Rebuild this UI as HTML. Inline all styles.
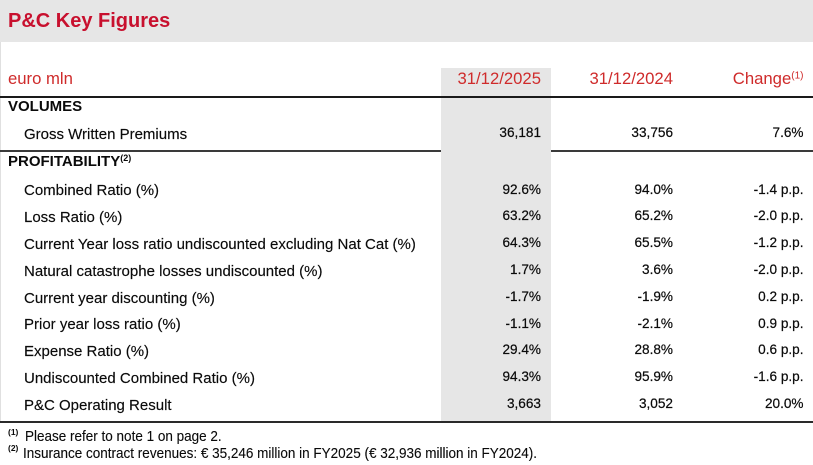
<!DOCTYPE html>
<html>
<head>
<meta charset="utf-8">
<style>
html,body{margin:0;padding:0;}
body{width:813px;height:465px;position:relative;overflow:hidden;background:#fff;font-family:"Liberation Sans",Arial,sans-serif;color:#0a0a0a;}
.a{position:absolute;white-space:nowrap;}
.lab{font-size:15px;line-height:15px;left:24px;-webkit-text-stroke:0.15px #0a0a0a;}
.sec{font-size:15px;line-height:15px;left:8px;font-weight:bold;}
.n{font-size:13.6px;line-height:13.6px;text-align:right;-webkit-text-stroke:0.2px #0a0a0a;}
.c1{right:272px;}
.c2{right:140px;}
.c3{right:9.5px;}
.hd{font-size:16.7px;line-height:16.7px;color:#cf2b2b;}
.fn{font-size:13.5px;line-height:13.5px;transform:scaleY(1.08);transform-origin:0 100%;-webkit-text-stroke:0.1px #0a0a0a;}
.fs{font-size:8.5px;line-height:8.5px;font-weight:bold;left:8px;}
sup{font-size:0.6em;vertical-align:0.55em;line-height:0;}
</style>
</head>
<body>
<!-- title band -->
<div class="a" style="left:0;top:0;width:813px;height:42px;background:#e6e6e6;"></div>
<div class="a" style="left:8px;top:11.4px;font-size:20px;line-height:20px;font-weight:bold;color:#c8102e;">P&amp;C Key Figures</div>
<!-- left faint border -->
<div class="a" style="left:0;top:42px;width:1px;height:380px;background:#e0e0e0;"></div>
<!-- gray column -->
<div class="a" style="left:441px;top:68px;width:110px;height:354px;background:#e6e6e6;"></div>

<!-- header -->
<div class="a hd" style="left:8px;top:71.4px;">euro mln</div>
<div class="a hd c1" style="top:71.4px;">31/12/2025</div>
<div class="a hd c2" style="top:71.4px;">31/12/2024</div>
<div class="a hd c3" style="top:71.4px;">Change<sup>(1)</sup></div>

<!-- lines -->
<div class="a" style="left:0;top:96px;width:813px;height:2px;background:#1a1a1a;"></div>
<div class="a" style="left:0;top:150px;width:441px;height:1.5px;background:#3a3a3a;"></div>
<div class="a" style="left:551px;top:150px;width:262px;height:1.5px;background:#3a3a3a;"></div>
<div class="a" style="left:0;top:421px;width:813px;height:2px;background:#2a2a2a;"></div>

<!-- volumes -->
<div class="a sec" style="top:99px;">VOLUMES</div>
<div class="a lab" style="top:126.6px;">Gross Written Premiums</div>
<div class="a n c1" style="top:125.8px;">36,181</div>
<div class="a n c2" style="top:125.8px;">33,756</div>
<div class="a n c3" style="top:125.8px;">7.6%</div>

<!-- profitability -->
<div class="a sec" style="top:153.8px;">PROFITABILITY<sup>(2)</sup></div>

<div class="a lab" style="top:183.3px;">Combined Ratio (%)</div>
<div class="a n c1" style="top:182.5px;">92.6%</div>
<div class="a n c2" style="top:182.5px;">94.0%</div>
<div class="a n c3" style="top:182.5px;">-1.4 p.p.</div>

<div class="a lab" style="top:210.1px;">Loss Ratio (%)</div>
<div class="a n c1" style="top:209.3px;">63.2%</div>
<div class="a n c2" style="top:209.3px;">65.2%</div>
<div class="a n c3" style="top:209.3px;">-2.0 p.p.</div>

<div class="a lab" style="top:236.9px;">Current Year loss ratio undiscounted excluding Nat Cat (%)</div>
<div class="a n c1" style="top:236.1px;">64.3%</div>
<div class="a n c2" style="top:236.1px;">65.5%</div>
<div class="a n c3" style="top:236.1px;">-1.2 p.p.</div>

<div class="a lab" style="top:263.7px;">Natural catastrophe losses undiscounted (%)</div>
<div class="a n c1" style="top:262.9px;">1.7%</div>
<div class="a n c2" style="top:262.9px;">3.6%</div>
<div class="a n c3" style="top:262.9px;">-2.0 p.p.</div>

<div class="a lab" style="top:290.5px;">Current year discounting (%)</div>
<div class="a n c1" style="top:289.7px;">-1.7%</div>
<div class="a n c2" style="top:289.7px;">-1.9%</div>
<div class="a n c3" style="top:289.7px;">0.2 p.p.</div>

<div class="a lab" style="top:317.3px;">Prior year loss ratio (%)</div>
<div class="a n c1" style="top:316.5px;">-1.1%</div>
<div class="a n c2" style="top:316.5px;">-2.1%</div>
<div class="a n c3" style="top:316.5px;">0.9 p.p.</div>

<div class="a lab" style="top:344.1px;">Expense Ratio (%)</div>
<div class="a n c1" style="top:343.3px;">29.4%</div>
<div class="a n c2" style="top:343.3px;">28.8%</div>
<div class="a n c3" style="top:343.3px;">0.6 p.p.</div>

<div class="a lab" style="top:370.9px;">Undiscounted Combined Ratio (%)</div>
<div class="a n c1" style="top:370.1px;">94.3%</div>
<div class="a n c2" style="top:370.1px;">95.9%</div>
<div class="a n c3" style="top:370.1px;">-1.6 p.p.</div>

<div class="a lab" style="top:397.7px;">P&amp;C Operating Result</div>
<div class="a n c1" style="top:396.9px;">3,663</div>
<div class="a n c2" style="top:396.9px;">3,052</div>
<div class="a n c3" style="top:396.9px;">20.0%</div>

<!-- footnotes -->
<div class="a fs" style="top:427.5px;">(1)</div>
<div class="a fn" style="left:25px;top:430.3px;">Please refer to note 1 on page 2.</div>
<div class="a fs" style="top:444px;">(2)</div>
<div class="a fn" style="left:23px;top:446.9px;">Insurance contract revenues: € 35,246 million in FY2025 (€ 32,936 million in FY2024).</div>
</body>
</html>
